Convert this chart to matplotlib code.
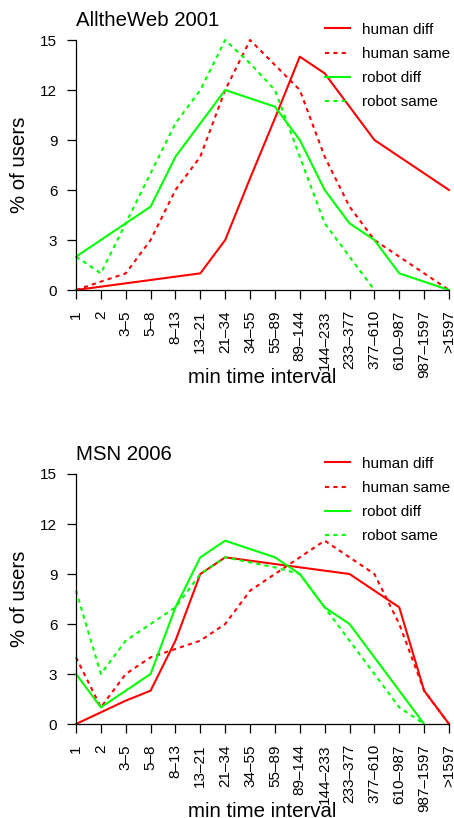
import numpy as np
import matplotlib
matplotlib.use("Agg")
import matplotlib.pyplot as plt

plt.rcParams['font.family'] = ['Liberation Sans', 'DejaVu Sans']

intervals = ["1", "2", "3–5", "5–8", "8–13", "13–21", "21–34", "34–55", "55–89",
             "89–144", "144–233", "233–377", "377–610", "610–987", "987–1597", ">1597"]

nan = np.nan
# AlltheWeb 2001
atw_human_diff = [0, 0.2, 0.4, 0.6, 0.8, 1, 3, 6.7, 10.3, 14, 13, 11, 9, 8, 7, 6]
atw_human_same = [0, 0.5, 1, 3, 6, 8, 12, 15, 13.5, 12, 8, 5, 3, 2, 1, 0]
atw_robot_diff = [2, 3, 4, 5, 8, 10, 12, 11.5, 11, 9, 6, 4, 3, 1, 0.5, 0]
atw_robot_same = [2, 1, 4, 7, 10, 12, 15, 13.6, 12, 8, 4, 2, 0, nan, nan, nan]
# MSN 2006
msn_human_diff = [0, 0.7, 1.4, 2, 5, 9, 10, 9.8, 9.6, 9.4, 9.2, 9, 8, 7, 2, 0]
msn_human_same = [4, 1, 3, 4, 4.5, 5, 6, 8, 9, 10, 11, 10, 9, 6, 2, 0]
msn_robot_diff = [3, 1, 2, 3, 7, 10, 11, 10.5, 10, 9, 7, 6, 4, 2, 0, nan]
msn_robot_same = [8, 3, 5, 6, 7, 9, 10, 9.7, 9.4, 9, 7, 5, 3, 1, 0, nan]

labels = ["human diff", "human same", "robot diff", "robot same"]
colors = ["#ff0000", "#ff0000", "#00ff00", "#00ff00"]
styles = ["-", "--", "-", "--"]

W, H = 454, 818
fig = plt.figure(figsize=(W / 100, H / 100), dpi=100)


def panel(top_px, title, series, legend_center_px):
    ax = fig.add_axes([76 / W, 1 - (top_px + 250) / H, 373 / W, 250 / H])
    x = np.arange(len(intervals))
    for vals, lab, col, ls in zip(series, labels, colors, styles):
        line, = ax.plot(x, vals, color=col, lw=1.5, ls=ls, label=lab, clip_on=False)
        if ls == "--":
            line.set_dashes((2, 2))
    ax.set_xlim(0, len(intervals) - 1)
    ax.set_ylim(0, 15)
    ax.set_xticks(x)
    ax.set_xticklabels(intervals, rotation=90, fontsize=11)
    ax.set_yticks([0, 3, 6, 9, 12, 15])
    ax.tick_params(axis='both', length=6.5, width=0.9, pad=7, labelsize=11)
    ax.tick_params(axis='x', pad=8)
    for s in ["top", "right"]:
        ax.spines[s].set_visible(False)
    for s in ["left", "bottom"]:
        ax.spines[s].set_linewidth(0.9)
    ax.annotate(title, xy=(0, 1), xycoords='axes fraction', xytext=(0, 14),
                textcoords='offset pixels', fontsize=14.7, va='baseline', ha='left')
    ax.annotate("min time interval", xy=(0.5, 0), xycoords='axes fraction',
                xytext=(0, -93), textcoords='offset pixels', fontsize=14.7,
                va='baseline', ha='center')
    ax.annotate("% of users", xy=(0, 0.5), xycoords='axes fraction',
                xytext=(-56, 0), textcoords='offset pixels', fontsize=14.7,
                va='center', ha='center', rotation=90)
    ax.legend(loc='center left', bbox_to_anchor=(325 / W, 1 - legend_center_px / H),
              bbox_transform=fig.transFigure, frameon=False, fontsize=11,
              borderpad=0, borderaxespad=0, handlelength=1.64,
              handletextpad=0.8, labelspacing=0.67)
    return ax


panel(40, "AlltheWeb 2001",
      [atw_human_diff, atw_human_same, atw_robot_diff, atw_robot_same], 66)
panel(474, "MSN 2006",
      [msn_human_diff, msn_human_same, msn_robot_diff, msn_robot_same], 500)

fig.savefig("out.png", dpi=100)
